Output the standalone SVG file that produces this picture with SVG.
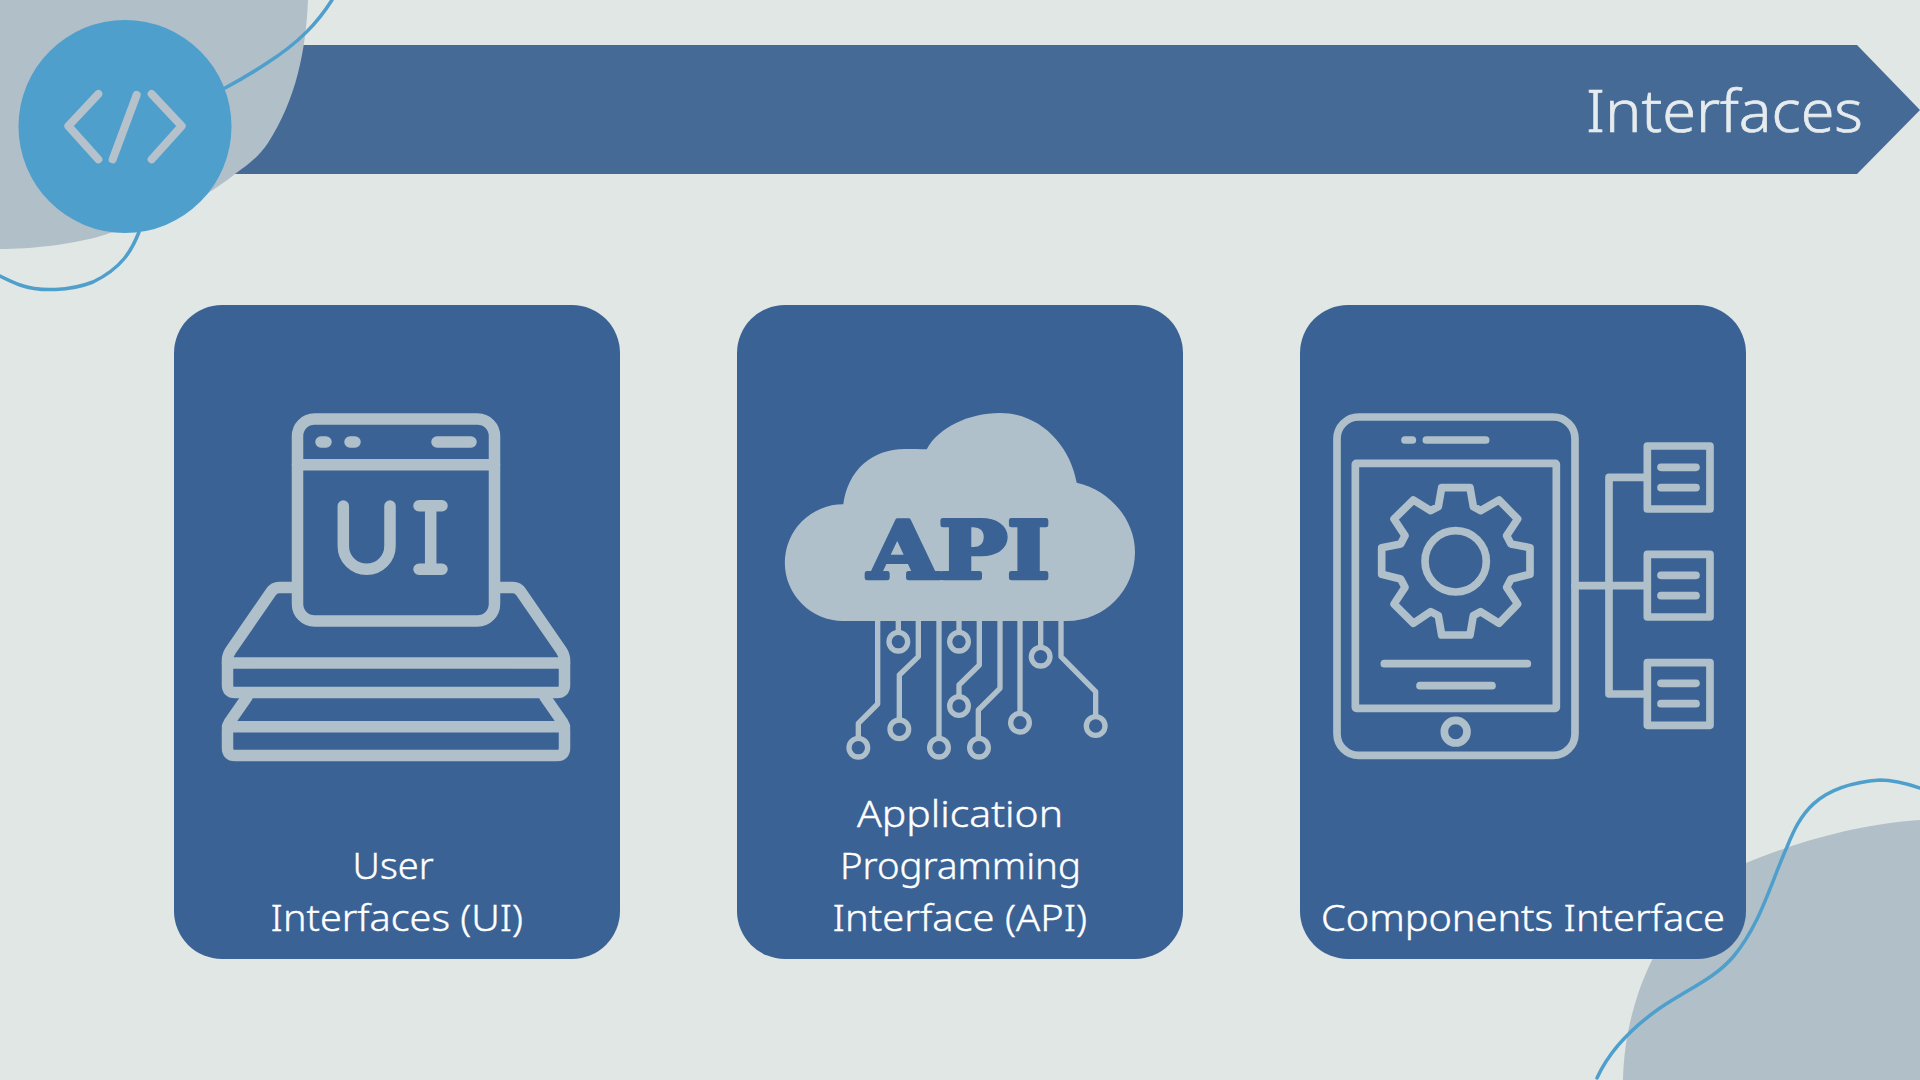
<svg xmlns="http://www.w3.org/2000/svg" width="1920" height="1080" viewBox="0 0 1920 1080">
<style>
.card{fill:#3b6295}
.blob{fill:#b0bfc8}
.curve{fill:none;stroke:#4f9fcd;stroke-width:3.5;stroke-linecap:round}
.ico{fill:none;stroke:#afc0ca;stroke-linecap:round;stroke-linejoin:round}
.lbl{font-family:"Noto Sans","Open Sans",sans-serif;font-size:37px;font-weight:300;fill:#fff;stroke:#fff;stroke-width:.4}
.dot{fill:none;stroke:#afc0ca;stroke-width:16}
</style>
<rect width="1920" height="1080" fill="#e1e7e4"/>
<g id="banner">
<polygon points="220,45 1857,45 1920,110 1857,174 220,174" fill="#456a96"/>
<text x="1586" y="131.5" font-family="'Noto Sans','Open Sans',sans-serif" font-size="59" font-weight="300" fill="#e6ebee" stroke="#e6ebee" stroke-width=".7" textLength="277" lengthAdjust="spacingAndGlyphs">Interfaces</text>
</g>
<g id="decor-top-left">
<path class="blob" d="M0,0 H308 C306,50 296,100 268,143 C256,160 246,166 235,174 C200,202 150,225 110,233 C75,245 30,249 0,249 Z"/>
<path class="curve" d="M332,0 C318,22 300,42 267,63 C252,73 240,80 225,88"/>
<path class="curve" d="M139,232 C132,250 122,268 93,282 C70,291 40,292 20,285 C12,282 6,279 0,276"/>
</g>
<g id="decor-bottom-right">
<path class="blob" d="M1920,820 C1850,825 1790,845 1746,863 C1680,890 1625,980 1623,1080 H1920 Z"/>
<path class="curve" d="M1597,1078 C1612,1045 1640,1022 1660,1008 C1690,988 1715,978 1733,957 C1760,925 1770,885 1787,847 C1800,815 1815,785 1880,780 C1895,780 1908,784 1920,788"/>
</g>
<g id="badge">
<circle cx="125" cy="126.5" r="106.5" fill="#4f9fcd"/>
<g transform="scale(.33333)" class="ico" style="stroke:#b5c2cc;stroke-width:24">
<path d="M295,282 L205,378 L295,478"/>
<path d="M410,285 L338,478"/>
<path d="M455,282 L545,378 L455,478"/>
</g>
</g>
<g id="card-ui">
<rect class="card" x="174" y="305" width="446" height="654" rx="48"/>
<g class="ico" stroke-width="11.5">
<rect x="297.5" y="419" width="197" height="202" rx="17"/>
<path d="M297.5,464.7 H494.5"/>
<path d="M321,442 H326 M350,442 H355 M437,442 H471"/>
<path d="M343.3,506 V546 a23.3,23.3 0 0 0 46.7,0 V506"/>
<path d="M419,505.7 H442 M419,569.3 H442 M430.7,505.7 V569.3"/>
<path d="M292,587.5 H279 Q274,587.5 271,592 L231,650 Q227.5,655 227.5,660 V685 Q227.5,692.5 235,692.5 H557 Q564.5,692.5 564.5,685 V660 Q564.5,655 561,650 L521,592 Q518,587.5 513,587.5 H500"/>
<path d="M227.5,663 H564.5"/>
<path d="M247,697 L231,720 Q227.5,724 227.5,730 V748 Q227.5,755.5 235,755.5 H557 Q564.5,755.5 564.5,748 V730 Q564.5,724 561,720 L545,697"/>
<path d="M227.5,726.7 H564.5"/>
</g>
<text class="lbl" x="352.6" y="878.7" textLength="81" lengthAdjust="spacingAndGlyphs">User</text>
<text class="lbl" x="270.6" y="930.7" textLength="252.5" lengthAdjust="spacingAndGlyphs">Interfaces (UI)</text>
</g>
<g id="card-api">
<rect class="card" x="737" y="305" width="446" height="654" rx="48"/>
<path fill="#afc0ca" d="M843,621 A58.3,58.3 0 0 1 843.3,504.3 C848,470 872,449 905,449 C913,449 920,449 926.7,449.3 C938,428 968,413 1000,413 C1040,413 1070,445 1076.7,482.7 C1110,490 1135,520 1135,552 C1135,590 1105,621 1067,621 Z"/>
<text x="868" y="577.5" font-family="'DejaVu Serif',serif" font-weight="700" font-size="79" fill="#3b6295" stroke="#3b6295" stroke-width="4.5" stroke-linejoin="round" textLength="182" lengthAdjust="spacingAndGlyphs">API</text>
<g transform="translate(760 390) scale(.33333)" class="ico" stroke-width="16" style="stroke-linecap:butt">
<path d="M353,693 V942 L295,1000 V1045"/>
<path d="M415,693 V730"/>
<path d="M475,693 V800 L418,855 V990"/>
<path d="M537,693 V1045"/>
<path d="M597,693 V725"/>
<path d="M658,693 V825 L597,885 V920"/>
<path d="M720,693 V895 L655,960 V1045"/>
<path d="M780,693 V970"/>
<path d="M842,693 V772"/>
<path d="M903,693 V800 L1007,905 V980"/>
<circle class="dot" cx="295" cy="1073" r="28"/>
<circle class="dot" cx="415" cy="755" r="28"/>
<circle class="dot" cx="418" cy="1018" r="28"/>
<circle class="dot" cx="537" cy="1073" r="28"/>
<circle class="dot" cx="597" cy="755" r="28"/>
<circle class="dot" cx="597" cy="948" r="28"/>
<circle class="dot" cx="657" cy="1073" r="28"/>
<circle class="dot" cx="780" cy="998" r="28"/>
<circle class="dot" cx="842" cy="800" r="28"/>
<circle class="dot" cx="1007" cy="1008" r="28"/>
</g>
<text class="lbl" x="857" y="826.7" textLength="206" lengthAdjust="spacingAndGlyphs">Application</text>
<text class="lbl" x="840" y="878.7" textLength="241" lengthAdjust="spacingAndGlyphs">Programming</text>
<text class="lbl" x="832.6" y="930.7" textLength="254.5" lengthAdjust="spacingAndGlyphs">Interface (API)</text>
</g>
<g id="card-components">
<rect class="card" x="1300" y="305" width="446" height="654" rx="48"/>
<g transform="translate(1310 390) scale(.33333)" class="ico" stroke-width="23">
<rect x="81" y="81" width="714" height="1015" rx="65"/>
<rect x="136" y="220" width="603" height="735" rx="3"/>
<path d="M285,150 H307 M349,150 H527 M223,821 H652 M330,887 H546"/>
<circle cx="437" cy="1025" r="34"/>
<circle cx="437" cy="514" r="92"/>
<path d="M395,293 H480 L490,350 L512,362 L567,330 L623,387 L590,437 L603,462 L660,473 V553 L603,567 L590,592 L623,642 L567,700 L512,665 L490,677 L480,735 H395 L385,677 L362,665 L310,700 L252,642 L285,592 L272,567 L215,553 V473 L272,462 L285,437 L252,387 L310,330 L362,362 L385,350 Z"/>
<path d="M795,587 H1012 M1012,262 H897 V912 H1012"/>
<rect x="1012" y="168" width="188" height="189"/>
<rect x="1012" y="493" width="188" height="188"/>
<rect x="1012" y="818" width="188" height="188"/>
<path d="M1053,232 H1158 M1053,293 H1158 M1053,556 H1158 M1053,617 H1158 M1053,880 H1158 M1053,941 H1158"/>
</g>
<text class="lbl" x="1321" y="930.7" textLength="404" lengthAdjust="spacingAndGlyphs">Components Interface</text>
</g>
</svg>
